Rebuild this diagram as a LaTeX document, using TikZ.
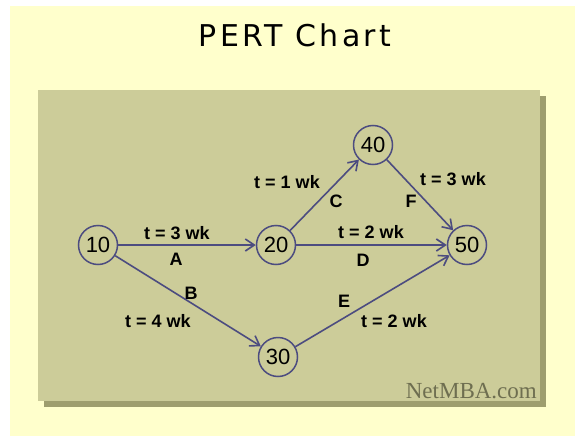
\documentclass[tikz,border=0pt]{standalone}
\usepackage{fontspec}
\setmainfont{Liberation Sans}
\newfontfamily\titlefont[LetterSpace=11]{DejaVu Sans}
\newfontfamily\markfont{Liberation Serif}
\usetikzlibrary{arrows.meta, positioning}
\definecolor{pageBg}{RGB}{255, 255, 204}
\definecolor{panelBg}{RGB}{204, 204, 153}
\definecolor{panelShadow}{RGB}{158, 158, 110}
\definecolor{edgeFg}{RGB}{76, 76, 128}
\definecolor{markFg}{RGB}{110, 110, 80}
\tikzstyle{arrow} = [line width=1.6pt, draw=edgeFg, -{Straight Barb[length=9pt,width=12pt]}]
\tikzstyle{event} = [circle, draw=edgeFg, line width=1.5pt, minimum size=39pt, inner sep=0pt, font=\fontsize{22}{22}\selectfont]
\tikzstyle{lbl} = [anchor=base, inner sep=0pt, font=\fontsize{18}{18}\selectfont\bfseries]

\begin{document}
\begin{tikzpicture}[x=1pt, y=-1pt]
\useasboundingbox (0,0) rectangle (575,436);

% backdrop, panel and its drop shadow
\fill [pageBg] (10,6) rectangle (575,436);
\fill [panelShadow] (44,96) rectangle (546,407);
\fill [panelBg] (38,90) rectangle (540,401);

\node (title) [anchor=base, inner sep=0pt, font=\titlefont\fontsize{30}{30}\selectfont] at (295,46) {PERT Chart};

% events
\node (e10) [event] at (98,245) {10};
\node (e20) [event] at (276,245) {20};
\node (e40) [event] at (373,145) {40};
\node (e50) [event] at (467,245) {50};
\node (e30) [event] at (278,357) {30};

% activities
\draw [arrow] (e10) -- (e20);
\draw [arrow] (e10) -- (e30);
\draw [arrow] (e20) -- (e40);
\draw [arrow] (e20) -- (e50);
\draw [arrow] (e40) -- (e50);
\draw [arrow] (e30) -- (e50);

\node (tA) [lbl] at (177,239) {t = 3 wk};
\node (actA) [lbl] at (176,265) {A};
\node (tB) [lbl] at (158,327) {t = 4 wk};
\node (actB) [lbl] at (191,299) {B};
\node (tC) [lbl] at (287,188) {t = 1 wk};
\node (actC) [lbl] at (336,207) {C};
\node (tD) [lbl] at (371,238) {t = 2 wk};
\node (actD) [lbl] at (363,266) {D};
\node (tE) [lbl] at (394,327) {t = 2 wk};
\node (actE) [lbl] at (344,307) {E};
\node (tF) [lbl] at (453,185) {t = 3 wk};
\node (actF) [lbl] at (411,207) {F};

\node (mark) [anchor=base east, inner sep=0pt, text=markFg, font=\markfont\fontsize{23}{23}\selectfont] at (537,398) {NetMBA.com};

\end{tikzpicture}
\end{document}
